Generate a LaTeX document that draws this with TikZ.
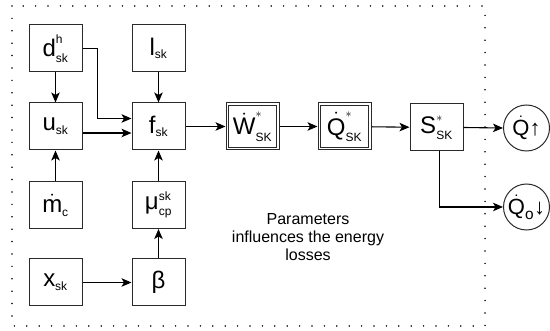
\documentclass[tikz,border=0pt]{standalone}
\usepackage{amsmath}
\usepackage{fontspec}
\setmainfont{Liberation Sans}
\usetikzlibrary{arrows.meta}
\DeclareMathSizes{24}{24}{12}{9}
\definecolor{lgray}{HTML}{2A2A2A}

\tikzset{
  blk/.style={draw=lgray, line width=1pt, minimum width=53pt, minimum height=47pt, inner sep=0pt, font=\fontsize{24}{26}\selectfont},
  inbox/.style={draw=lgray, line width=1pt},
  outc/.style={draw=lgray, line width=1pt, circle, minimum size=46pt, inner sep=0pt, font=\fontsize{22}{24}\selectfont},
  link/.style={line width=1.1pt, -{Stealth[length=10pt,width=8.5pt,inset=2.5pt]}},
  dotline/.style={line width=1.7pt, line cap=round, dash pattern=on 0pt off 12.4pt}
}

\begin{document}
\begin{tikzpicture}[x=1pt,y=-1pt]
    \useasboundingbox (0,0) rectangle (550,331);

    % Frame round the parameters
    \draw[dotline] (12,6) rectangle (485,326);

    % Parameter blocks
    \node[blk] (dsk) at (55.5,48.5) {$\text{d}^{\text{h}}_{\text{sk}}$};
    \node[blk] (lsk) at (158.5,48.5) {$\text{l}_{\text{sk}}$};
    \node[blk] (usk) at (55.5,126.5) {$\text{u}_{\text{sk}}$};
    \node[blk] (fsk) at (158.5,126.5) {$\text{f}_{\text{sk}}$};
    \node[blk] (mc) at (55.5,205) {$\dot{\text{m}}_{\text{c}}$};
    \node[blk] (mucp) at (158.5,205) {$\text{μ}^{\text{sk}}_{\text{cp}}$};
    \node[blk] (xsk) at (55.5,282.5) {$\text{x}_{\text{sk}}$};
    \node[blk] (beta) at (158.5,282.5) {β};

    % Energy chain
    \node[blk] (wsk) at (252.5,126.5) {$\dot{\text{W}}^{*}_{\text{SK}}$};
    \draw[inbox] ([shift={(3pt,3pt)}]wsk.south west) rectangle ([shift={(-3pt,-3pt)}]wsk.north east);
    \node[blk] (qsk) at (344.5,126.5) {$\dot{\text{Q}}^{*}_{\text{SK}}$};
    \draw[inbox] ([shift={(3pt,3pt)}]qsk.south west) rectangle ([shift={(-3pt,-3pt)}]qsk.north east);
    \node[blk] (ssk) at (436.5,127.5) {$\text{S}^{*}_{\text{SK}}$};
    \node[outc] (qup) at (526.5,128) {$\dot{\text{Q}}$↑};
    \node[outc] (qdown) at (526.5,207) {$\dot{\text{Q}}_{\text{o}}$↓};

    \node[align=center, font=\fontsize{16}{18}\selectfont] (txt) at (308,237)
        {Parameters\\influences the energy\\losses};

    % Connectors
    \draw[link] (dsk) -- (usk);
    \draw[link] (dsk.east) -- ++(15,0) |- ([yshift=8pt]fsk.west);
    \draw[link] ([yshift=-6.5pt]usk.east) -- ([yshift=-6.5pt]fsk.west);
    \draw[link] (lsk) -- (fsk);
    \draw[link] (mc) -- (usk);
    \draw[link] (mucp) -- (fsk);
    \draw[link] (xsk) -- (beta);
    \draw[link] (beta) -- (mucp);
    \draw[link] (fsk) -- (wsk);
    \draw[link] (wsk) -- (qsk);
    \draw[link] (qsk) -- (ssk);
    \draw[link] (ssk.east) -- (qup.west);
    \draw[link] ([xshift=3pt]ssk.south) |- (qdown.west);
\end{tikzpicture}
\end{document}
